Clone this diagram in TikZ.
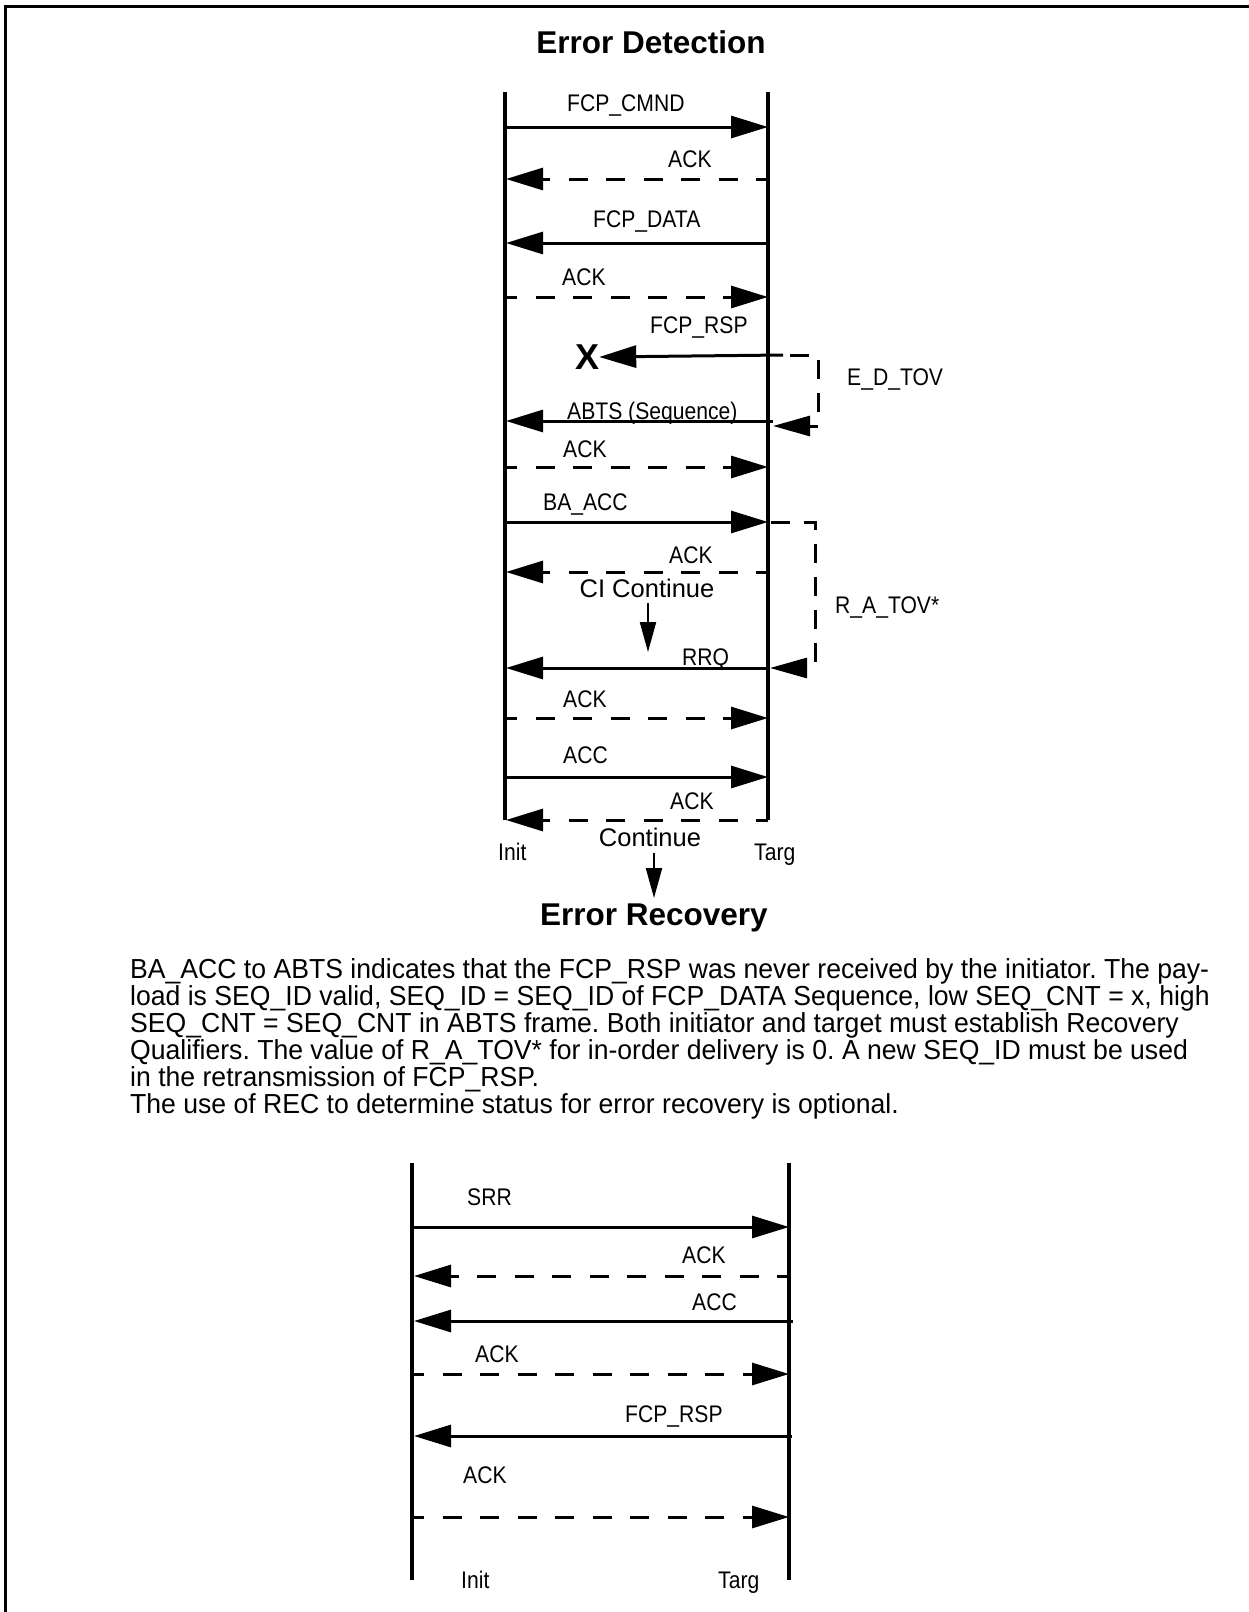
\documentclass[tikz,border=0pt]{standalone}
\usepackage{fontspec}
\setmainfont{Liberation Sans}
\newfontfamily\lblfont[FakeStretch=0.88]{Liberation Sans}
\newfontfamily\bodyfont[FakeStretch=0.967]{Liberation Sans}
\usetikzlibrary{arrows.meta}
\frenchspacing
\begin{document}
\begin{tikzpicture}[x=1pt,y=-1pt,
  life/.style={line width=3.3pt},
  msg/.style={line width=3pt,-{Triangle[length=37pt,width=22pt]}},
  dmsg/.style={msg,dash pattern=on 19pt off 18.5pt,dash phase=7pt},
  brk/.style={line width=3pt,dash pattern=on 19pt off 14pt,-{Triangle[length=37pt,width=20pt]}},
  down/.style={line width=2.2pt,-{Triangle[length=30pt,width=16pt]}},
  lbl/.style={inner sep=0pt,anchor=base west,font=\lblfont\fontsize{24}{28}\selectfont},
  big/.style={inner sep=0pt,anchor=base,font=\fontsize{25.5}{30}\selectfont},
  ttl/.style={inner sep=0pt,anchor=base,font=\bfseries\fontsize{31.5}{36}\selectfont},
  body/.style={inner sep=0pt,anchor=base west,font=\bodyfont\fontsize{27.5}{30}\selectfont},
]
\useasboundingbox (0,0) rectangle (1249,1612);
% frame
\draw[line width=3.3pt] (5.5,1612) -- (5.5,6.5) -- (1249,6.5);

% ---------- top diagram ----------
\node[ttl] (t1) at (651,53) {Error Detection};
\coordinate (IT) at (505,92); \coordinate (IB) at (505,820);
\coordinate (TT) at (768,92); \coordinate (TB) at (768,820);
\draw[life] (IT) -- (IB);
\draw[life] (TT) -- (TB);

\coordinate (m1a) at (505,127); \coordinate (m1b) at (768,127);
\draw[msg] (m1a) -- (m1b);
\node[lbl] (l1) at (567,111) {FCP\_CMND};

\coordinate (m2a) at (768,179); \coordinate (m2b) at (506,179);
\draw[dmsg] (m2a) -- (m2b);
\node[lbl] (l2) at (668,167) {ACK};

\coordinate (m3a) at (768,243); \coordinate (m3b) at (506,243);
\draw[msg] (m3a) -- (m3b);
\node[lbl] (l3) at (593,227) {FCP\_DATA};

\coordinate (m4a) at (505,297); \coordinate (m4b) at (768,297);
\draw[dmsg] (m4a) -- (m4b);
\node[lbl] (l4) at (562,285) {ACK};

\node[inner sep=0pt,font=\bfseries\fontsize{36}{40}\selectfont] (X) at (587,357) {X};
\coordinate (m5a) at (783,355);
\draw[msg] (m5a) -- (X.east);
\node[lbl] (l5) at (650,333) {FCP\_RSP};

\coordinate (e1) at (790,355); \coordinate (e2) at (818,355);
\coordinate (e3) at (818,426); \coordinate (e4) at (773,426);
\draw[brk] (e1) -- (e2) -- (e3) -- (e4);
\node[lbl] (ed) at (847,385) {E\_D\_TOV};

\coordinate (m6a) at (773,421); \coordinate (m6b) at (506,421);
\draw[msg] (m6a) -- (m6b);
\node[lbl] (l6) at (567,419) {ABTS (Sequence)};

\coordinate (m7a) at (505,467); \coordinate (m7b) at (768,467);
\draw[dmsg] (m7a) -- (m7b);
\node[lbl] (l7) at (563,457) {ACK};

\coordinate (m8a) at (505,522); \coordinate (m8b) at (768,522);
\draw[msg] (m8a) -- (m8b);
\node[lbl] (l8) at (543,510) {BA\_ACC};

\coordinate (r1) at (771,522); \coordinate (r2) at (815,522);
\coordinate (r3) at (815,668); \coordinate (r4) at (770,668);
\draw[brk] (r1) -- (r2) -- (r3) -- (r4);
\node[lbl] (ra) at (835,613) {R\_A\_TOV*};

\coordinate (m9a) at (768,572); \coordinate (m9b) at (506,572);
\draw[dmsg] (m9a) -- (m9b);
\node[lbl] (l9) at (669,563) {ACK};

\node[big] (ci) at (647,597) {CI Continue};
\coordinate (ciA) at (648,603); \coordinate (ciB) at (648,652);
\draw[down] (ciA) -- (ciB);

\coordinate (m10a) at (770,668); \coordinate (m10b) at (506,668);
\draw[msg] (m10a) -- (m10b);
\node[lbl] (l10) at (682,665) {RRQ};

\coordinate (m11a) at (505,718); \coordinate (m11b) at (768,718);
\draw[dmsg] (m11a) -- (m11b);
\node[lbl] (l11) at (563,707) {ACK};

\coordinate (m12a) at (505,777); \coordinate (m12b) at (768,777);
\draw[msg] (m12a) -- (m12b);
\node[lbl] (l12) at (563,763) {ACC};

\coordinate (m13a) at (768,820); \coordinate (m13b) at (506,820);
\draw[dmsg] (m13a) -- (m13b);
\node[lbl] (l13) at (670,809) {ACK};

\node[big] (cont) at (650,846) {Continue};
\coordinate (coA) at (654,853); \coordinate (coB) at (654,898);
\draw[down] (coA) -- (coB);

\node[lbl] (init1) at (498,860) {Init};
\node[lbl] (targ1) at (754,860) {Targ};

\node[ttl] (t2) at (654,925) {Error Recovery};

% ---------- text ----------
\node[body] (p1) at (130,978) {BA\_ACC to ABTS indicates that the FCP\_RSP was never received by the initiator. The pay-};
\node[body] (p2) at (130,1005) {load is SEQ\_ID valid, SEQ\_ID = SEQ\_ID of FCP\_DATA Sequence, low SEQ\_CNT = x, high};
\node[body] (p3) at (130,1032) {SEQ\_CNT = SEQ\_CNT in ABTS frame. Both initiator and target must establish Recovery};
\node[body] (p4) at (130,1059) {Qualifiers. The value of R\_A\_TOV* for in-order delivery is 0. A new SEQ\_ID must be used};
\node[body] (p5) at (130,1086) {in the retransmission of FCP\_RSP.};
\node[body] (p6) at (130,1113) {The use of REC to determine status for error recovery is optional.};

% ---------- bottom diagram ----------
\coordinate (BIT) at (412,1163); \coordinate (BIB) at (412,1580);
\coordinate (BTT) at (789,1163); \coordinate (BTB) at (789,1580);
\draw[life] (BIT) -- (BIB);
\draw[life] (BTT) -- (BTB);

\coordinate (n1a) at (411,1227); \coordinate (n1b) at (789,1227);
\draw[msg] (n1a) -- (n1b);
\node[lbl] (k1) at (467,1205) {SRR};

\coordinate (n2a) at (789,1276); \coordinate (n2b) at (414,1276);
\draw[dmsg] (n2a) -- (n2b);
\node[lbl] (k2) at (682,1263) {ACK};

\coordinate (n3a) at (793,1321); \coordinate (n3b) at (414,1321);
\draw[msg] (n3a) -- (n3b);
\node[lbl] (k3) at (692,1310) {ACC};

\coordinate (n4a) at (412,1374); \coordinate (n4b) at (789,1374);
\draw[dmsg] (n4a) -- (n4b);
\node[lbl] (k4) at (475,1362) {ACK};

\coordinate (n5a) at (792,1436); \coordinate (n5b) at (414,1436);
\draw[msg] (n5a) -- (n5b);
\node[lbl] (k5) at (625,1422) {FCP\_RSP};

\coordinate (n6a) at (412,1517); \coordinate (n6b) at (789,1517);
\draw[dmsg] (n6a) -- (n6b);
\node[lbl] (k6) at (463,1483) {ACK};

\node[lbl] (init2) at (461,1588) {Init};
\node[lbl] (targ2) at (718,1588) {Targ};
\end{tikzpicture}
\end{document}
